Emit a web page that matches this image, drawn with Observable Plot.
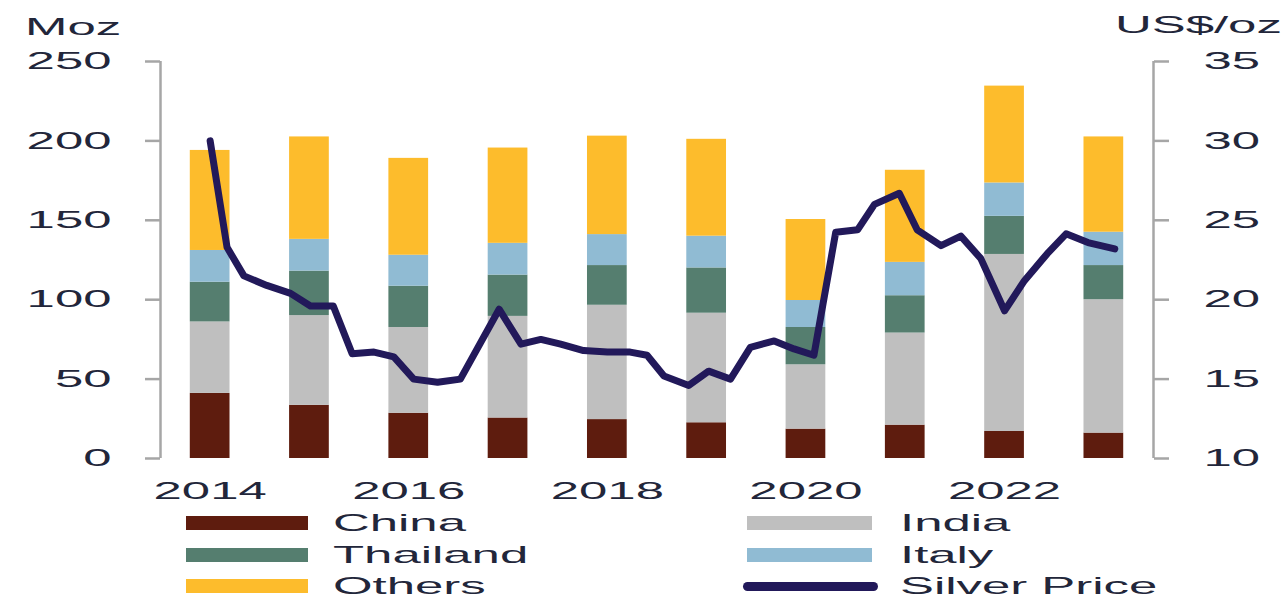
<!DOCTYPE html>
<html><head><meta charset="utf-8">
<script src="https://cdn.jsdelivr.net/npm/d3@7"></script>
<script src="https://cdn.jsdelivr.net/npm/@observablehq/plot@0.6"></script>
<style>
html,body{margin:0;padding:0;background:#fff;}
#chart{position:relative;width:1286px;height:600px;overflow:hidden;font-family:"Liberation Sans",Arial,sans-serif;color:#22263a;}
#chart svg{position:absolute;left:0;top:0;}
.lbl{position:absolute;font-size:24px;line-height:18px;white-space:nowrap;transform:scaleX(2.12);transform-origin:0 50%;}
.sw{position:absolute;}
</style></head><body><div id="chart"></div>
<script>
// ---- data ----
const years = [2014, 2015, 2016, 2017, 2018, 2019, 2020, 2021, 2022, 2023];
const countries = ["China", "India", "Thailand", "Italy", "Others"];
const china    = [41, 33.5, 28.5, 25.5, 24.5, 22.5, 18.5, 21, 17, 16];
const india    = [45, 56.5, 54, 64, 72, 69, 40.5, 58, 111.5, 84];
const thailand = [25, 28, 26, 26, 25, 28.5, 23.5, 23.5, 24, 21.5];
const italy    = [20, 20, 19.5, 20, 19.5, 20, 17, 21, 21, 21];
const others   = [63, 64.5, 61, 60, 62, 61, 51, 58, 61, 60];
const priceT = [2014.0, 2014.17, 2014.34, 2014.57, 2014.81, 2015.01, 2015.24, 2015.43, 2015.65, 2015.85,
  2016.05, 2016.29, 2016.52, 2016.91, 2017.13, 2017.33, 2017.53, 2017.76, 2018.0, 2018.23,
  2018.40, 2018.57, 2018.82, 2019.02, 2019.24, 2019.44, 2019.68, 2019.88, 2020.08, 2020.30,
  2020.52, 2020.69, 2020.94, 2021.12, 2021.36, 2021.56, 2021.76, 2022.0, 2022.20, 2022.43,
  2022.62, 2022.84, 2023.11];
const price = [30.0, 23.3, 21.5, 20.9, 20.4, 19.6, 19.6, 16.6, 16.7, 16.4,
  15.0, 14.8, 15.0, 19.4, 17.2, 17.5, 17.2, 16.8, 16.7, 16.7,
  16.5, 15.2, 14.6, 15.5, 15.0, 17.0, 17.4, 16.9, 16.5, 24.25,
  24.4, 26.0, 26.7, 24.4, 23.4, 24.0, 22.6, 19.3, 21.2, 22.9,
  24.15, 23.6, 23.2];
const leftTicks = [0, 50, 100, 150, 200, 250];
const rightTicks = [10, 15, 20, 25, 30, 35];
const xTicks = [2014, 2016, 2018, 2020, 2022];
const leftTitle = "Moz";
const rightTitle = "US$/oz";
const lineName = "Silver Price";

// ---- styles ----
const colors = ["#5e1c0e", "#bfbfbf", "#557e6f", "#90bbd3", "#fdbc2c"];
const lineColor = "#22195a";
const axisGrey = "#a6a6a6";
const textColor = "#22263a";
const SX = 2.12;

const series = [china, india, thailand, italy, others];
const stackData = years.flatMap((y, i) => countries.map((c, k) => ({year: y, country: c, value: series[k][i]})));
const priceData = priceT.map((t, i) => ({t, p: price[i]}));
const toLeft = p => (p - 10) * 10; // 10..35 US$/oz -> 0..250 Moz

const plot = Plot.plot({
  width: 1286, height: 505,
  marginTop: 61, marginBottom: 47, marginLeft: 160, marginRight: 133,
  style: {fontFamily: "Liberation Sans, Arial, sans-serif", fontSize: "24px", color: textColor, background: "transparent"},
  x: {domain: [2013.5, 2023.5], axis: null},
  y: {domain: [0, 250], axis: null},
  color: {domain: countries, range: colors},
  marks: [
    Plot.rectY(stackData, {x1: d => d.year - 0.2, x2: d => d.year + 0.2, y: "value", fill: "country"}),
    Plot.line(priceData, {x: "t", y: d => toLeft(d.p), stroke: lineColor, strokeWidth: 7, strokeLinejoin: "round", strokeLinecap: "round"}),
    Plot.ruleX([2013.5], {y1: 0, y2: 250, stroke: axisGrey, strokeWidth: 2.5}),
    Plot.ruleX([2023.5], {y1: 0, y2: 250, stroke: axisGrey, strokeWidth: 2.5}),
    Plot.axisY({anchor: "left", ticks: leftTicks, tickSize: 15, tickPadding: 34, stroke: axisGrey, strokeWidth: 2.5, fill: textColor, label: null, tickFormat: d => String(d)}),
    Plot.axisY({anchor: "right", ticks: rightTicks.map(toLeft), tickSize: 15, tickPadding: 35, stroke: axisGrey, strokeWidth: 2.5, fill: textColor, label: null, tickFormat: d => String(d / 10 + 10)}),
    Plot.axisX({anchor: "bottom", ticks: xTicks, tickSize: 0, tickPadding: 23, fill: textColor, label: null, tickFormat: d => String(d)})
  ]
});
plot.querySelectorAll("text").forEach(t => {
  const tr = t.getAttribute("transform") || "";
  t.setAttribute("transform", tr + ` scale(${SX},1)`);
});
const chart = document.getElementById("chart");
chart.appendChild(plot);

function addLabel(text, left, top) {
  const s = document.createElement("div");
  s.className = "lbl";
  s.textContent = text;
  s.style.left = left + "px";
  s.style.top = top + "px";
  chart.appendChild(s);
}
addLabel(leftTitle, 25, 18);
addLabel(rightTitle, 1115, 16);

// legend: two columns, three rows
const items = countries.map((c, i) => ({label: c, color: colors[i], line: false}))
  .concat([{label: lineName, color: lineColor, line: true}]);
const colSwatchX = [186, 747], colSwatchW = [122, 125], colTextX = [333, 900];
const rowCenter = [523, 555, 586];
items.forEach((it, i) => {
  const col = i % 2, row = Math.floor(i / 2);
  const sw = document.createElement("div");
  sw.className = "sw";
  sw.style.background = it.color;
  if (it.line) {
    sw.style.left = (colSwatchX[col] - 4) + "px";
    sw.style.width = (colSwatchW[col] + 10) + "px";
    sw.style.height = "9px";
    sw.style.top = (rowCenter[row] - 4.5) + "px";
    sw.style.borderRadius = "5px";
  } else {
    sw.style.left = colSwatchX[col] + "px";
    sw.style.width = colSwatchW[col] + "px";
    sw.style.height = "14px";
    sw.style.top = (rowCenter[row] - 7) + "px";
  }
  chart.appendChild(sw);
  addLabel(it.label, colTextX[col], rowCenter[row] - 8.7);
});
</script></body></html>
